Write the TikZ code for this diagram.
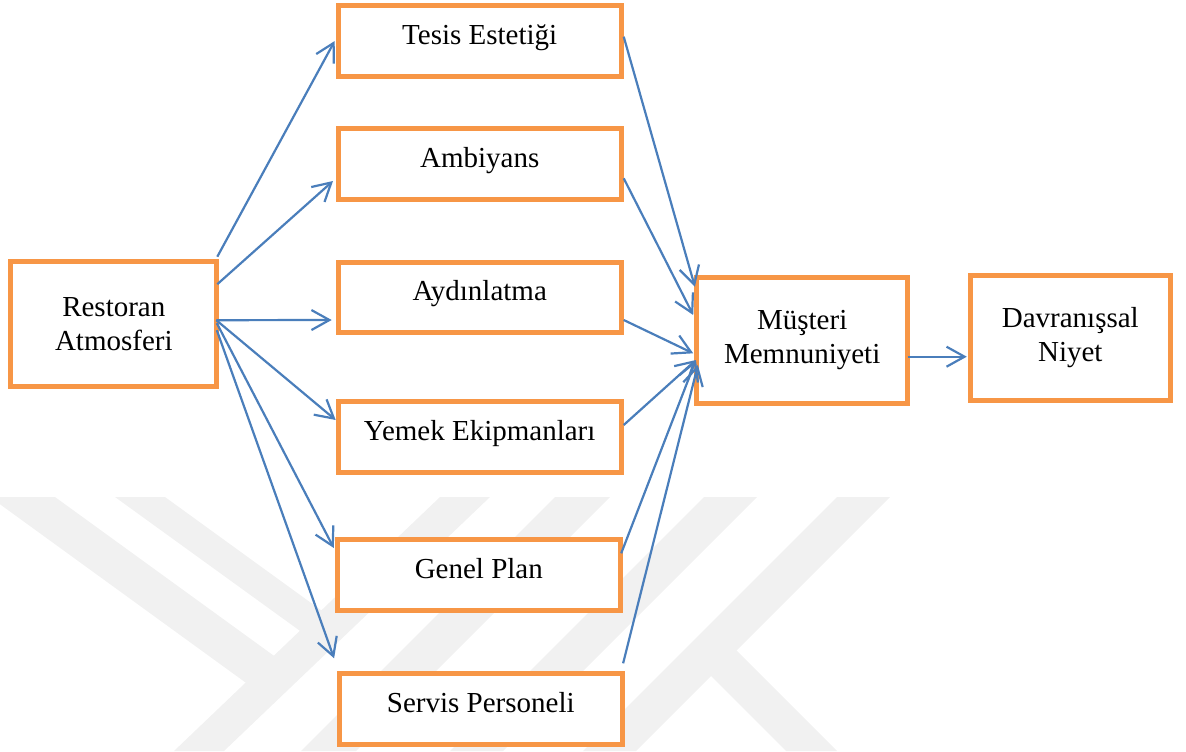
\documentclass[tikz,border=0pt]{standalone}
\usepackage{fontspec}
\setmainfont{Liberation Serif}
\usepackage{tikz}
\usetikzlibrary{arrows.meta,calc}
\definecolor{boxorange}{HTML}{F79646}
\definecolor{arrblue}{HTML}{4A7EBB}
\definecolor{wmgray}{HTML}{F1F1F1}

\begin{document}
\begin{tikzpicture}[x=0.5bp,y=-0.5bp,
box/.style={rectangle, draw=boxorange, fill=white, line width=2.5bp, align=center, font=\fontsize{14.5bp}{17bp}\selectfont},
fac/.style={box, minimum width=141.5bp, minimum height=35.25bp, text height=10bp, text depth=7bp},
arr/.style={draw=arrblue, line width=1.1bp, -{Straight Barb[length=9bp,width=10bp]}},
wm/.style={fill=wmgray, draw=none}]

\useasboundingbox (0,0) rectangle (1186,751);

% watermark in the background
\begin{scope}
\clip (0,497) rectangle (1186,751);
\fill[wm] (-10,497) -- (55,497) -- (288,666) -- (260,693) -- cycle;
\fill[wm] (115,497) -- (165,497) -- (336,621) -- (314,641) -- cycle;
\fill[wm] (440,497) -- (490,497) -- (224,751) -- (174,751) -- cycle;
\fill[wm] (555,497) -- (610,497) -- (356,751) -- (301,751) -- cycle;
\fill[wm] (704,497) -- (757,497) -- (503,751) -- (450,751) -- cycle;
\fill[wm] (837,497) -- (890,497) -- (636,751) -- (583,751) -- cycle;
\fill[wm] (697.5,662.5) -- (723,637) -- (837,751) -- (786,751) -- cycle;
\end{scope}

\node[box, minimum width=103bp, minimum height=62.5bp] (rest) at (113.8,324.2) {Restoran\\Atmosferi};

\node[fac] (tesis) at (479.7,41) {Tesis Estetiği};
\node[fac] (ambi) at (479.7,164) {Ambiyans};
\node[fac] (aydin) at (479.7,297.5) {Aydınlatma};
\node[fac] (yemek) at (479.7,437) {Yemek Ekipmanları};
\node[fac] (genel) at (478.8,575) {Genel Plan};
\node[fac] (servis) at (480.8,709) {Servis Personeli};

\node[box, minimum width=105.5bp, minimum height=63bp] (must) at (802.2,340.3) {Müşteri\\Memnuniyeti};
\node[box, minimum width=100bp, minimum height=62.5bp] (davr) at (1070.3,337.5) {Davranışsal\\Niyet};

% restoran atmosferi -> boyutlar
\draw[arr] ($(rest.east)+(-2,-67.5)$) -- ($(tesis.west)+(-1,0)$);
\draw[arr] ($(rest.east)+(-2,-40)$) -- ($(ambi.west)+(-2.7,17)$);
\draw[arr] ($(rest.east)+(-3,-4)$) -- ($(aydin.west)+(-4,22.5)$);
\draw[arr] ($(rest.east)+(-3,-4)$) -- ($(yemek.west)+(0,-17)$);
\draw[arr] ($(rest.east)+(-2.5,-1)$) -- ($(genel.west)+(-1,-27)$);
\draw[arr] ($(rest.east)+(-2.5,6)$) -- ($(servis.west)+(-2.7,-50.7)$);

% boyutlar -> musteri memnuniyeti
\draw[arr] ($(tesis.east)+(0,-4.3)$) -- ($(must.west)+(0.7,-53.6)$);
\draw[arr] ($(ambi.east)+(0,14.3)$) -- ($(must.west)+(-1,-25.3)$);
\draw[arr] ($(aydin.east)+(0,22.5)$) -- ($(must.west)+(-1,13)$);
\draw[arr] ($(yemek.east)+(0,-12)$) -- ($(must.west)+(1.7,19.7)$);
\draw[arr] ($(genel.east)+(-1.6,-21.7)$) -- ($(must.west)+(1.7,19.7)$);
\draw[arr] ($(servis.east)+(-1.7,-45.7)$) -- ($(must.west)+(3.7,24.7)$);

\draw[arr] ($(must.east)+(-2.7,16.4)$) -- ($(davr.west)+(-1,19.2)$);
\end{tikzpicture}
\end{document}
